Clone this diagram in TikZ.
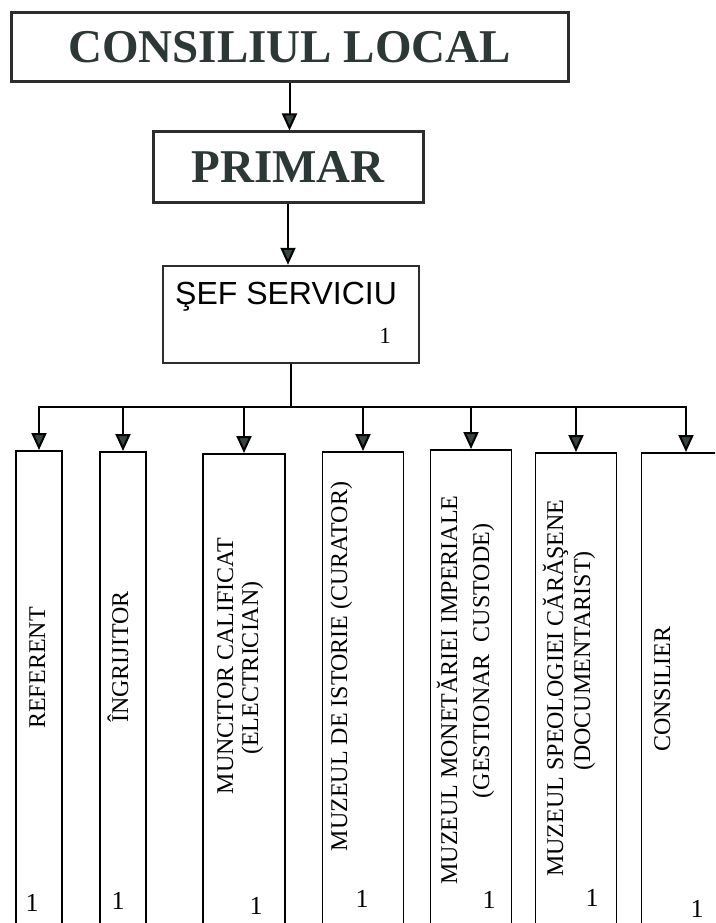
\documentclass[tikz,border=0pt]{standalone}
\usepackage{fontspec}
\setmainfont{Liberation Serif}
\newfontfamily\arialf{Liberation Sans}
\usetikzlibrary{arrows.meta}
\definecolor{titlegray}{RGB}{44,56,54}
\definecolor{headgray}{RGB}{55,68,66}
\definecolor{bordergray}{RGB}{45,45,45}
\tikzset{
  topbox/.style={draw=bordergray, line width=3pt, inner sep=0pt,
    font=\fontsize{47}{50}\selectfont\bfseries, text=titlegray},
  sefbox/.style={draw=bordergray, line width=2.5pt, inner sep=0pt},
  lowbox/.style={draw=black, line width=1.6pt, inner sep=0pt, anchor=north, minimum height=520pt},
  conn/.style={line width=2pt, draw=black},
  arr/.style={conn, -{Triangle[width=15pt,length=17pt,fill=headgray]}},
  vlabel/.style={rotate=90, anchor=base, inner sep=0pt, font=\fontsize{24}{26}\selectfont},
  num/.style={inner sep=0pt, font=\fontsize{26}{28}\selectfont},
}
\begin{document}
\begin{tikzpicture}[x=1pt,y=-1pt]
\useasboundingbox (0,0) rectangle (715,923);
\clip (0,0) rectangle (715,923);

% top boxes
\node[topbox, minimum width=557pt, minimum height=69pt] (cons) at (289.5,47.5) {CONSILIUL LOCAL};
\node[topbox, minimum width=270pt, minimum height=70pt] (prim) at (288,167) {PRIMAR};
\node[sefbox, minimum width=256pt, minimum height=97pt] (sef) at (291,314.5) {};
\node[anchor=base west, inner sep=0pt, font=\arialf\fontsize{32}{34}\selectfont] (seft) at (175,304) {ŞEF SERVICIU};
\node[inner sep=0pt, font=\fontsize{23}{25}\selectfont] (sefn) at (385,336) {1};

\draw[arr] (cons.south) -- (cons.south |- prim.north);
\draw[arr] (prim.south) -- (prim.south |- sef.north);

% bottom boxes
\node[lowbox, minimum width=46pt] (b1) at (39,450) {};
\node[lowbox, minimum width=46pt] (b2) at (123,451) {};
\node[lowbox, minimum width=82pt] (b3) at (244,453) {};
\node[lowbox, minimum width=81pt] (b4) at (363,451) {};
\node[lowbox, minimum width=81pt] (b5) at (471,449) {};
\node[lowbox, minimum width=81pt] (b6) at (576,452) {};
\node[lowbox, minimum width=89pt] (b7) at (686,452) {};

% bus
\coordinate (bus) at (0,407);
\draw[conn] (sef.south) -- (sef.south |- bus);
\draw[arr] (sef.south |- bus) -- (b1.north |- bus) -- (b1.north);
\draw[arr] (sef.south |- bus) -- (b7.north |- bus) -- (b7.north);
\draw[arr] (b2.north |- bus) -- (b2.north);
\draw[arr] (b3.north |- bus) -- (b3.north);
\draw[arr] (b4.north |- bus) -- (b4.north);
\draw[arr] (b5.north |- bus) -- (b5.north);
\draw[arr] (b6.north |- bus) -- (b6.north);

% vertical labels
\node[vlabel] (l1) at (45,668) {REFERENT};
\node[vlabel] (l2) at (128,657) {ÎNGRIJITOR};
\node[vlabel] (l3a) at (233,666) {MUNCITOR CALIFICAT};
\node[vlabel] (l3b) at (258,668) {(ELECTRICIAN)};
\node[vlabel] (l4) at (347,666.5) {MUZEUL DE ISTORIE (CURATOR)};
\node[vlabel] (l5a) at (457,690) {MUZEUL MONETĂRIEI IMPERIALE};
\node[vlabel] (l5b) at (489,661) {(GESTIONAR\ \ CUSTODE)};
\node[vlabel] (l6a) at (563,688) {MUZEUL SPEOLOGIEI CĂRĂŞENE};
\node[vlabel] (l6b) at (590,661) {(DOCUMENTARIST)};
\node[vlabel] (l7) at (670,689) {CONSILIER};

% numbers
\node[num] (n1) at (32,903) {1};
\node[num] (n2) at (118,901) {1};
\node[num] (n3) at (256,905.5) {1};
\node[num] (n4) at (362,898.5) {1};
\node[num] (n5) at (489,899.5) {1};
\node[num] (n6) at (592,898) {1};
\node[num] (n7) at (697,908.5) {1};
\end{tikzpicture}
\end{document}
